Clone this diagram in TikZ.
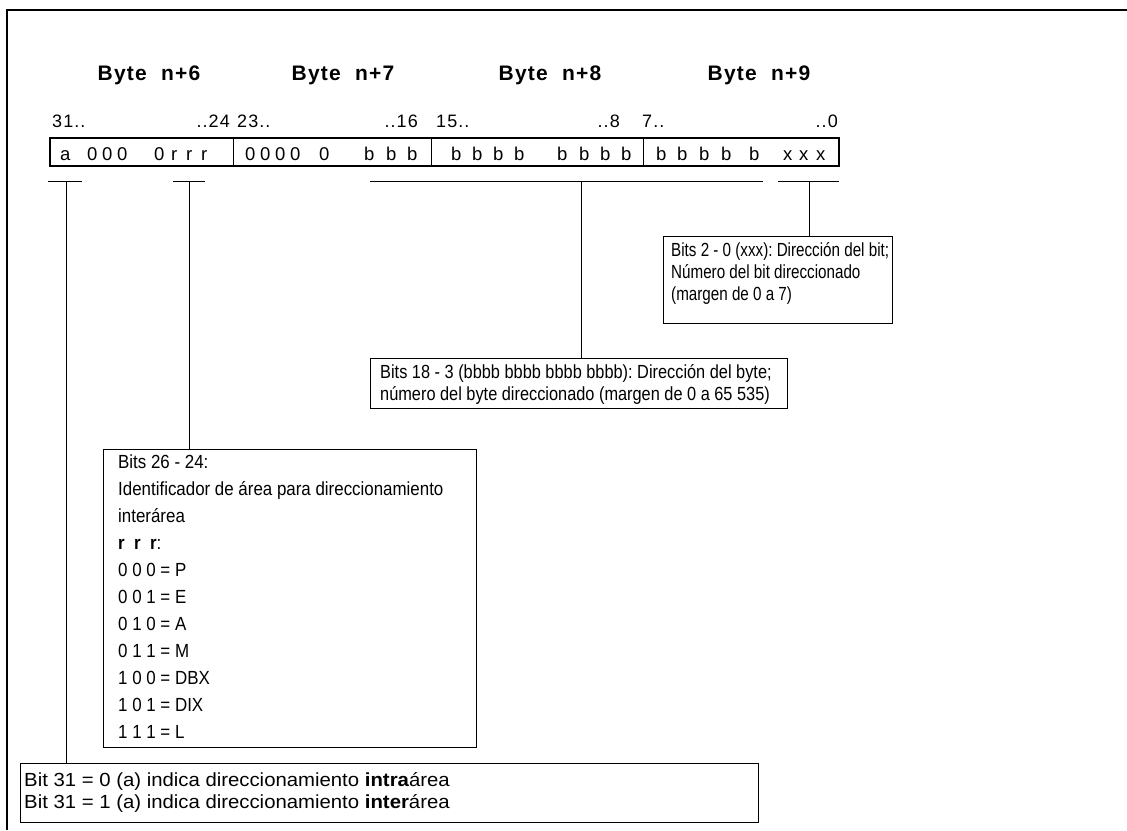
\documentclass[tikz,border=0pt]{standalone}
\usepackage{fontspec}
\setmainfont{Liberation Sans}
\newfontfamily\numfont[LetterSpace=6]{Liberation Sans}
\newfontfamily\headfont[LetterSpace=6]{Liberation Sans}
\newfontfamily\fontA[FakeStretch=0.80]{Liberation Sans}
\newfontfamily\fontB[FakeStretch=0.86]{Liberation Sans}
\newfontfamily\fontC[FakeStretch=0.89]{Liberation Sans}
\newfontfamily\fontD[FakeStretch=1.07]{Liberation Sans}
\usetikzlibrary{positioning}
\frenchspacing

\tikzset{
  infobox/.style={draw, line width=1.2pt, anchor=north west, inner sep=0pt},
  infotext/.style={anchor=north west, align=left, inner sep=0pt},
  bytehead/.style={anchor=base, font=\headfont\bfseries\fontsize{21}{24}\selectfont},
  bitnum/.style={anchor=base west, inner sep=0pt, font=\numfont\fontsize{18}{22}\selectfont},
  bitch/.style={anchor=base west, inner sep=0pt, font=\fontsize{18.5}{22}\selectfont},
  bar/.style={line width=1pt},
  stem/.style={line width=1pt},
}

\begin{document}
\begin{tikzpicture}[x=1pt,y=-1pt]
 \useasboundingbox (0,0) rectangle (1127,830);
 % frame
 \draw[line width=1.5pt] (7,830) -- (7,10) -- (1127,10);
 %
 \node[bytehead] (h6) at (149,80) {Byte\ \ n+6};
 \node[bytehead] (h7) at (343,80) {Byte\ \ n+7};
 \node[bytehead] (h8) at (550,80) {Byte\ \ n+8};
 \node[bytehead] (h9) at (759,80) {Byte\ \ n+9};
 %
 \node[bitnum] (n31) at (52,127) {31..};
 \node[bitnum, anchor=base east] (n24) at (230,127) {..24};
 \node[bitnum] (n23) at (237,127) {23..};
 \node[bitnum, anchor=base east] (n16) at (418,127) {..16};
 \node[bitnum] (n15) at (436,127) {15..};
 \node[bitnum, anchor=base east] (n8) at (620,127) {..8};
 \node[bitnum] (n7) at (642,127) {7..};
 \node[bitnum, anchor=base east] (n0) at (838,127) {..0};
 %
 \draw[line width=1.2pt] (50,138) rectangle (839,166);
 \draw[line width=1pt] (233,138) -- (233,166);
 \draw[line width=1pt] (431,138) -- (431,166);
 \draw[line width=1pt] (643,138) -- (643,166);
 % bits of the address, one by one
 \foreach \x/\c [count=\i] in {60/a,87/0,102/0,117/0,154/0,171/r,186/r,201/r,
     245/0,260/0,275/0,290/0,319/0,364/b,386/b,407/b,
     451/b,472/b,493/b,514/b,557/b,579/b,600/b,621/b,
     656/b,677/b,699/b,721/b,749/b,783/x,799/x,816/x}
   \node[bitch] (ch\i) at (\x,160) {\c};
 %
 \draw[bar] (48,181) -- (82,181);
 \draw[bar] (173,181) -- (205,181);
 \draw[bar] (370,181) -- (763,181);
 \draw[bar] (778,181) -- (839,181);
 \coordinate (ta) at (66,181);
 \coordinate (tr) at (189,181);
 \coordinate (tb) at (581,181);
 \coordinate (tx) at (809,181);
 %
 \node[infobox, minimum width=229pt, minimum height=87pt] (boxA) at (663,236) {};
 \node[infotext, font=\fontA\fontsize{19}{22}\selectfont] (txtA)
   at ([shift={(8,6)}]boxA.north west)
   {Bits 2 - 0 (xxx): Dirección del bit;\\Número del bit direccionado\\(margen de 0 a 7)};
 \node[infobox, minimum width=417pt, minimum height=50pt] (boxB) at (370,358) {};
 \node[infotext, font=\fontB\fontsize{19}{22}\selectfont] (txtB)
   at ([shift={(10,6)}]boxB.north west)
   {Bits 18 - 3 (bbbb bbbb bbbb bbbb): Dirección del byte;\\número del byte direccionado (margen de 0 a 65 535)};
 \node[infobox, minimum width=373pt, minimum height=298pt] (boxC) at (103,449) {};
 \node[infotext, font=\fontC\fontsize{19}{27}\selectfont] (txtC)
   at ([shift={(15,6)}]boxC.north west)
   {Bits 26 - 24:\\Identificador de área para direccionamiento\\interárea\\\textbf{r\ \ r\ \ r}:\\0 0 0 = P\\0 0 1 = E\\0 1 0 = A\\0 1 1 = M\\1 0 0 = DBX\\1 0 1 = DIX\\1 1 1 = L};
 \node[infobox, minimum width=738pt, minimum height=59pt] (boxD) at (20,763) {};
 \node[infotext, font=\fontD\fontsize{19}{22}\selectfont] (txtD)
   at ([shift={(4,9)}]boxD.north west)
   {Bit 31 = 0 (a) indica direccionamiento \textbf{intra}área\\Bit 31 = 1 (a) indica direccionamiento \textbf{inter}área};
 %
 \draw[stem] (tx) -- (tx |- boxA.north);
 \draw[stem] (tb) -- (tb |- boxB.north);
 \draw[stem] (tr) -- (tr |- boxC.north);
 \draw[stem] (ta) -- (ta |- boxD.north);
\end{tikzpicture}
\end{document}
